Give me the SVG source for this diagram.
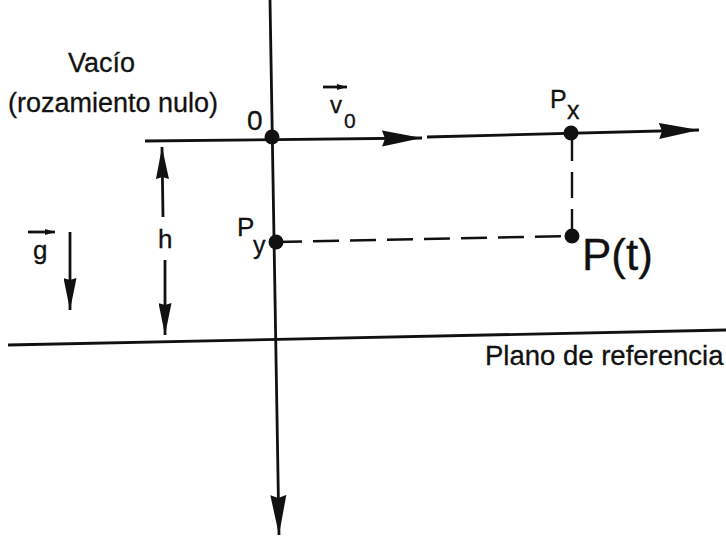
<svg xmlns="http://www.w3.org/2000/svg" width="726" height="536" viewBox="0 0 726 536">
<style>
text{font-family:"Liberation Sans",Arial,sans-serif;fill:#111;stroke:#111;stroke-width:0.3}
.ln{stroke:#111;stroke-width:2.8;fill:none}
.dash{stroke:#111;stroke-width:2.4;fill:none;stroke-dasharray:26 11}
.dot{fill:#111}
</style>
<defs>
<marker id="big" markerUnits="userSpaceOnUse" markerWidth="40" markerHeight="18" refX="40" refY="9" orient="auto" viewBox="0 0 40 18">
<path d="M0,1 L40,9 L0,17 L3,9 z" fill="#111"/>
</marker>
<marker id="mid" markerUnits="userSpaceOnUse" markerWidth="32" markerHeight="13" refX="32" refY="6.5" orient="auto" viewBox="0 0 32 13">
<path d="M0,0 L32,6.5 L0,13 L2,6.5 z" fill="#111"/>
</marker>
<marker id="vec" markerUnits="userSpaceOnUse" markerWidth="10" markerHeight="6" refX="10" refY="3" orient="auto" viewBox="0 0 10 6">
<path d="M0,0 L10,3 L0,6 z" fill="#111"/>
</marker>
</defs>
<rect width="726" height="536" fill="#fff"/>
<g id="connectors">
<line class="ln" x1="270" y1="0" x2="279" y2="535" marker-end="url(#big)"/>
<line class="ln" x1="145" y1="141" x2="422" y2="138" marker-end="url(#big)"/>
<line class="ln" x1="427" y1="137" x2="699" y2="130" marker-end="url(#big)"/>
<line class="ln" x1="8" y1="345" x2="726" y2="330" stroke-width="3"/>
<line class="ln" x1="163" y1="217" x2="162" y2="147" marker-end="url(#mid)"/>
<line class="ln" x1="165" y1="260" x2="165" y2="335" marker-end="url(#mid)"/>
<line class="ln" x1="70" y1="232" x2="70" y2="310" marker-end="url(#mid)"/>
<line class="dash" x1="572" y1="135" x2="572" y2="236"/>
<line class="dash" x1="276" y1="242" x2="572" y2="236"/>
</g>
<g id="labels">
<text x="68" y="72" font-size="27">Vacío</text>
<text x="8" y="112" font-size="27">(rozamiento nulo)</text>
<text x="485" y="365" font-size="27.5">Plano de referencia</text>
</g>
<g id="v0">
<line class="ln" x1="323" y1="87" x2="347" y2="87" stroke-width="2" marker-end="url(#vec)"/>
<text x="330" y="113" font-size="24">v</text>
<text x="344" y="128" font-size="21">0</text>
</g>
<g id="g-vector">
<line class="ln" x1="28" y1="232" x2="55" y2="232" stroke-width="2" marker-end="url(#vec)"/>
<text x="33" y="259" font-size="26">g</text>
</g>
<g id="h-label">
<text x="158" y="248" font-size="26">h</text>
</g>
<g id="origin">
<circle class="dot" cx="272" cy="137" r="7.5"/>
<text x="247" y="130" font-size="28">0</text>
</g>
<g id="Px">
<circle class="dot" cx="571" cy="133" r="7.5"/>
<text x="550" y="108" font-size="25">P</text>
<text x="567" y="119" font-size="25">x</text>
</g>
<g id="Py">
<circle class="dot" cx="276" cy="242" r="7.5"/>
<text x="237" y="236" font-size="26">P</text>
<text x="253" y="254" font-size="25">y</text>
</g>
<g id="Pt">
<circle class="dot" cx="572" cy="236" r="7.5"/>
<text x="582" y="270" font-size="44">P(t)</text>
</g>
</svg>
